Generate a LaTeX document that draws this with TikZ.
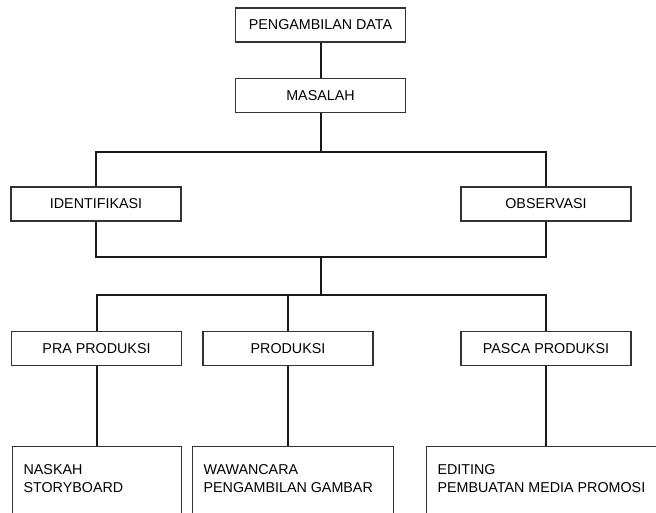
\documentclass[tikz,border=0pt]{standalone}
\usepackage{fontspec}
\setmainfont{Liberation Sans}
\newcommand{\notetext}[2]{\parbox[t][100pt][t]{#1}{\raggedright\baselineskip=17.7pt #2}}
\begin{document}
\begin{tikzpicture}[x=1pt,y=-1pt,
    box/.style={draw=black!80,line width=1.2pt,minimum width=170pt,minimum height=34pt,
      inner sep=0pt,font=\fontsize{14.3}{18}\selectfont},
    note/.style={draw=black!80,line width=1.2pt,anchor=north west,
      inner xsep=11pt,inner ysep=18pt,font=\fontsize{14.3}{17.7}\selectfont},
    conn/.style={draw=black!90,line width=2pt}]
    \useasboundingbox (0,0) rectangle (656,512);
    \clip (0,0) rectangle (656,512);
    \node[box] (data) at (320.5,25) {PENGAMBILAN DATA};
    \node[box] (masalah) at (320.5,95.5) {MASALAH};
    \node[box] (ident) at (96,204) {IDENTIFIKASI};
    \node[box] (obs) at (546,204) {OBSERVASI};
    \node[box] (pra) at (96.5,348.5) {PRA PRODUKSI};
    \node[box] (prod) at (288,348.5) {PRODUKSI};
    \node[box] (pasca) at (546,348.5) {PASCA PRODUKSI};
    \node[note] (naskah) at (12,446) {\notetext{147pt}{NASKAH\\STORYBOARD}};
    \node[note] (wawancara) at (192,446) {\notetext{179pt}{WAWANCARA\\PENGAMBILAN GAMBAR}};
    \node[note] (editing) at (426,446) {\notetext{260pt}{EDITING\\PEMBUATAN MEDIA PROMOSI}};
    \coordinate (split1) at (320.5,152);
    \coordinate (join1) at (320.5,257);
    \coordinate (split2) at (320.5,295);
    \draw[conn] (data) -- (masalah);
    \draw[conn] (masalah.south) -- (split1);
    \draw[conn] (ident.north) |- (split1) -| (obs.north);
    \draw[conn] (ident.south) |- (join1) -| (obs.south);
    \draw[conn] (join1) -- (split2);
    \draw[conn] (pra.north) |- (split2) -| (pasca.north);
    \draw[conn] (prod.north) -- (prod.north |- split2);
    \draw[conn] (pra.south) -- (pra.south |- naskah.north);
    \draw[conn] (prod.south) -- (prod.south |- wawancara.north);
    \draw[conn] (pasca.south) -- (pasca.south |- editing.north);
  \end{tikzpicture}
\end{document}
